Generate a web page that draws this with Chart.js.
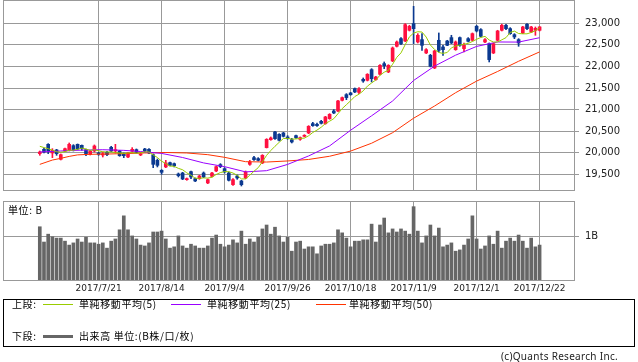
<!DOCTYPE html>
<html lang="ja">
<head>
<meta charset="utf-8">
<title>日足チャート</title>
<script src="https://cdn.jsdelivr.net/npm/chart.js@4.4.1/dist/chart.umd.min.js"></script>
<style>
    html, body { margin: 0; padding: 0; background: #fff; }
    #wrap { position: relative; width: 638px; height: 362px; overflow: hidden; color: #000;
            font-family: "Noto Sans CJK JP", "DejaVu Sans", sans-serif; }
    #wrap canvas { position: absolute; left: 0; }
    #priceChart { top: 0; }
    #volChart { top: 200px; }
    .txt { position: absolute; font-size: 10px; line-height: 12px; white-space: nowrap; letter-spacing: 0.6px; }
    #legend { position: absolute; left: 3px; top: 299px; width: 632px; height: 48px; box-sizing: border-box; border: 1px solid #000; }
    .sw { position: absolute; width: 30px; height: 1px; }
    #copy { font-family: "Noto Sans", "DejaVu Sans", sans-serif; letter-spacing: 0.3px; color: #222; }
</style>
</head>
<body>
<div id="wrap">
    <canvas id="priceChart" width="638" height="191"></canvas>
    <canvas id="volChart" width="638" height="100"></canvas>
    <div class="txt" style="left:8px; top:204px;">単位: B</div>
    <div id="legend">
        <span class="txt" style="left:8px; top:-2px;">上段:</span>
        <i class="sw" style="left:39px; top:4px; background:#99cc00;"></i>
        <span class="txt" style="left:75px; top:-2px;">単純移動平均(5)</span>
        <i class="sw" style="left:167px; top:4px; background:#9900ff;"></i>
        <span class="txt" style="left:203px; top:-2px;">単純移動平均(25)</span>
        <i class="sw" style="left:312px; top:4px; background:#ff3300;"></i>
        <span class="txt" style="left:345px; top:-2px;">単純移動平均(50)</span>
        <span class="txt" style="left:8px; top:30px;">下段:</span>
        <i class="sw" style="left:39px; top:35px; height:3px; background:#666;"></i>
        <span class="txt" style="left:75px; top:30px;">出来高 単位:(B株/口/枚)</span>
    </div>
    <div class="txt" id="copy" style="right:20px; top:350px;">(c)Quants Research Inc.</div>
</div>
<script>
// --- DATA ---
const sessions = [
    [6, [30]],
    [7, [3, 4, 5, 6, 7, 10, 11, 12, 13, 14, 18, 19, 20, 21, 24, 25, 26, 27, 28, 31]],
    [8, [1, 2, 3, 4, 7, 8, 9, 10, 14, 15, 16, 17, 18, 21, 22, 23, 24, 25, 28, 29, 30, 31]],
    [9, [1, 4, 5, 6, 7, 8, 11, 12, 13, 14, 15, 19, 20, 21, 22, 25, 26, 27, 28, 29]],
    [10, [2, 3, 4, 5, 6, 10, 11, 12, 13, 16, 17, 18, 19, 20, 23, 24, 25, 26, 27, 30, 31]],
    [11, [1, 2, 6, 7, 8, 9, 10, 13, 14, 15, 16, 17, 20, 21, 22, 24, 27, 28, 29, 30]],
    [12, [1, 4, 5, 6, 7, 8, 11, 12, 13, 14, 15, 18, 19, 20, 21, 22]]
];
const dates = sessions.flatMap(([m, days]) => days.map(d => `2017/${m}/${d}`));

const open = [
    19979, 20079, 20195, 19994, 20064, 19847, 20040, 20056, 20164, 20195,
    20172, 20071, 19963, 20040, 19994, 19948, 20010, 20126, 20040, 20040,
    19963, 19901, 20033, 20071, 19948, 20087, 20079, 19955, 19824, 19592,
    19670, 19770, 19747, 19507, 19530, 19376, 19561, 19399, 19399, 19530,
    19299, 19453, 19577, 19724, 19631, 19530, 19260, 19461, 19345, 19415,
    19731, 19886, 19863, 19762, 20118, 20303, 20481, 20427, 20458, 20365,
    20303, 20396, 20311, 20380, 20458, 20674, 20659, 20728, 20674, 20790,
    20968, 20968, 21215, 21346, 21385, 21485, 21400, 21702, 21679, 21926,
    21694, 21818, 22065, 21872, 22127, 22467, 22644, 22590, 22838, 22992,
    22567, 22621, 22312, 22258, 21964, 22606, 22451, 22590, 22668, 22389,
    22668, 22413, 22644, 22606, 22930, 22853, 22567, 22529, 22312, 22606,
    22838, 22954, 22876, 22737, 22621, 22776, 22977, 22799, 22838, 22838
];
const high = [
    20040, 20102, 20210, 20094, 20079, 19971, 20110, 20226, 20187, 20203,
    20180, 20087, 20056, 20180, 20010, 20017, 20033, 20149, 20195, 20056,
    19994, 20010, 20118, 20087, 19994, 20102, 20094, 19971, 19855, 19608,
    19824, 19785, 19762, 19530, 19546, 19415, 19577, 19415, 19477, 19554,
    19391, 19546, 19693, 19747, 19654, 19554, 19399, 19484, 19361, 19577,
    19824, 19917, 19886, 19955, 20326, 20365, 20496, 20442, 20473, 20396,
    20334, 20411, 20365, 20419, 20628, 20705, 20690, 20751, 20844, 20906,
    20999, 21215, 21292, 21370, 21400, 21501, 21509, 21733, 21833, 21949,
    21771, 22041, 22104, 22041, 22451, 22590, 22668, 22992, 22954, 23394,
    22760, 22760, 22413, 22281, 22374, 22776, 22490, 22606, 22722, 22590,
    22683, 22544, 22668, 22776, 22954, 22876, 22644, 22544, 22544, 22838,
    22977, 22977, 22899, 22760, 22644, 22930, 22992, 22930, 22915, 22930
];
const low = [
    19940, 19994, 19979, 19886, 19940, 19832, 20025, 20040, 20040, 20071,
    20056, 19932, 19948, 20017, 19940, 19901, 19932, 20025, 19994, 19917,
    19886, 19886, 20010, 19994, 19932, 20017, 19979, 19654, 19670, 19500,
    19654, 19693, 19670, 19438, 19376, 19361, 19399, 19330, 19384, 19422,
    19283, 19438, 19561, 19654, 19530, 19345, 19245, 19384, 19229, 19399,
    19708, 19824, 19809, 19747, 20110, 20288, 20311, 20272, 20365, 20311,
    20226, 20334, 20288, 20365, 20442, 20612, 20612, 20666, 20659, 20775,
    20906, 20953, 21200, 21230, 21331, 21393, 21370, 21632, 21663, 21640,
    21679, 21802, 21949, 21856, 22111, 22451, 22505, 22575, 22822, 22529,
    22544, 22374, 22297, 21988, 21949, 22335, 22258, 22482, 22529, 22374,
    22467, 22335, 22567, 22590, 22799, 22683, 22552, 22104, 22297, 22590,
    22822, 22853, 22745, 22644, 22467, 22760, 22853, 22784, 22722, 22822
];
const close = [
    20017, 20017, 20040, 20056, 19979, 19955, 20094, 20195, 20071, 20087,
    20094, 19979, 20033, 20156, 19963, 19979, 19955, 20040, 20071, 19932,
    19932, 19994, 20079, 20010, 19971, 20040, 19994, 19731, 19708, 19546,
    19762, 19708, 19700, 19469, 19391, 19399, 19438, 19345, 19461, 19438,
    19376, 19530, 19677, 19677, 19554, 19361, 19376, 19415, 19260, 19554,
    19785, 19840, 19824, 19940, 20311, 20342, 20326, 20288, 20380, 20334,
    20249, 20350, 20350, 20404, 20612, 20628, 20628, 20682, 20829, 20890,
    20921, 21200, 21277, 21277, 21346, 21408, 21478, 21663, 21818, 21717,
    21756, 22026, 22018, 22026, 22428, 22567, 22529, 22969, 22930, 22876,
    22722, 22490, 22389, 22003, 22359, 22374, 22389, 22490, 22544, 22567,
    22490, 22490, 22583, 22760, 22822, 22698, 22621, 22158, 22529, 22822,
    22954, 22876, 22760, 22683, 22544, 22915, 22876, 22915, 22884, 22915
];
// volume, in billions of shares
const volume = [
    1.22, 0.87, 1.05, 0.99, 0.96, 0.96, 0.89, 0.80, 0.85, 0.94,
    0.87, 0.98, 0.85, 0.85, 0.82, 0.85, 0.73, 0.89, 0.94, 1.15,
    1.47, 1.15, 1.01, 0.94, 0.80, 0.78, 0.85, 1.10, 1.10, 1.12,
    0.94, 0.73, 0.76, 1.01, 0.78, 0.73, 0.82, 0.78, 0.73, 0.73,
    0.78, 0.96, 1.03, 0.82, 0.76, 0.80, 0.92, 0.85, 1.12, 0.82,
    0.94, 0.87, 0.98, 1.17, 1.26, 1.05, 1.21, 1.01, 0.87, 0.98,
    0.66, 0.87, 0.89, 0.71, 0.76, 0.76, 0.60, 0.78, 0.82, 0.82,
    0.85, 1.15, 1.08, 0.96, 0.76, 0.89, 0.89, 0.92, 0.92, 1.28,
    0.87, 1.26, 1.42, 1.08, 1.17, 1.10, 1.17, 1.12, 1.05, 1.68,
    1.12, 0.85, 1.01, 1.26, 1.01, 1.19, 0.76, 0.80, 0.85, 0.66,
    0.69, 0.80, 0.94, 1.47, 0.94, 0.71, 0.78, 1.01, 0.82, 1.12,
    0.73, 0.89, 0.96, 0.89, 1.03, 0.89, 0.73, 0.96, 0.76, 0.80
];

// moving averages
const ma5 = [
    20149, 20120, 20094, 20060, 20022, 20009, 20025, 20056, 20059, 20080,
    20108, 20085, 20053, 20070, 20045, 20022, 20017, 20019, 20002, 19995,
    19986, 19994, 20002, 19989, 19997, 20019, 20019, 19949, 19889, 19804,
    19748, 19691, 19685, 19637, 19606, 19533, 19479, 19408, 19407, 19416,
    19412, 19430, 19496, 19540, 19563, 19560, 19529, 19477, 19393, 19393,
    19478, 19571, 19653, 19789, 19940, 20051, 20149, 20241, 20329, 20334,
    20315, 20320, 20333, 20337, 20393, 20469, 20524, 20591, 20676, 20731,
    20790, 20904, 21023, 21113, 21204, 21302, 21357, 21434, 21543, 21617,
    21686, 21796, 21867, 21909, 22051, 22213, 22314, 22504, 22685, 22774,
    22805, 22797, 22681, 22496, 22393, 22323, 22303, 22323, 22431, 22473,
    22496, 22516, 22535, 22578, 22629, 22671, 22697, 22612, 22566, 22566,
    22617, 22668, 22788, 22819, 22763, 22756, 22756, 22787, 22827, 22901
];
const ma25Idx = [0, 5, 10, 15, 20, 24, 29, 34, 39, 44, 49, 54, 59, 64, 69, 74, 79, 84, 89, 94, 99, 104, 109, 114, 119];
const ma25 = [20017, 20040, 20060, 20070, 20055, 20028, 19984, 19889, 19764, 19677, 19556, 19584, 19729,
              19925, 20158, 20521, 20856, 21199, 21675, 22008, 22261, 22464, 22567, 22565, 22666];
const ma50Idx = [0, 3, 5, 7, 9, 12, 16, 20, 25, 30, 35, 40, 44, 49, 54, 59, 64, 69, 74, 79, 84, 89, 94, 99, 104, 109, 114, 119];
const ma50 = [19730, 19830, 19870, 19915, 19950, 19963, 19970, 19979, 19994, 20005, 19994, 19955, 19893, 19792,
              19784, 19809, 19844, 19918, 20038, 20220, 20464, 20800, 21083, 21391, 21660, 21883, 22120, 22337];

const xTickLabels = ['2017/7/21', '2017/8/14', '2017/9/4', '2017/9/26', '2017/10/18', '2017/11/9', '2017/12/1', '2017/12/22'];
const priceTicks = [19500, 20000, 20500, 21000, 21500, 22000, 22500, 23000];
const volumeTicks = [1];

// --- STYLE ---
const UP = '#ff1040';
const DOWN = '#0b3990';
const GRID = '#999999';
const X_MIN = -8.76;
const X_MAX = 127.19;

const xTickIdx = xTickLabels.map(l => dates.indexOf(l));
const candleColor = close.map((c, i) => (c >= open[i] ? UP : DOWN));

const framePlugin = {
    id: 'frame',
    afterDraw(chart) {
        const { ctx, chartArea: a } = chart;
        ctx.save();
        ctx.strokeStyle = GRID;
        ctx.lineWidth = 1;
        ctx.strokeRect(Math.round(a.left) + 0.5, Math.round(a.top) + 0.5,
            Math.round(a.right - a.left), Math.round(a.bottom - a.top));
        ctx.restore();
    }
};

function xScale(showLabels) {
    return {
        type: 'linear',
        min: X_MIN,
        max: X_MAX,
        offset: false,
        afterBuildTicks: s => { s.ticks = xTickIdx.map(v => ({ value: v })); },
        afterFit: s => { s.height = showLabels ? 20 : 0; s.paddingLeft = 0; s.paddingRight = 0; },
        grid: { color: GRID, drawTicks: false, offset: false },
        border: { display: false },
        ticks: {
            display: showLabels,
            autoSkip: false,
            maxRotation: 0,
            padding: 3,
            color: '#222',
            font: { family: 'DejaVu Sans', size: 9 },
            callback: v => dates[v]
        }
    };
}

function yScale(min, max, tickValues, fmt) {
    return {
        position: 'right',
        min: min,
        max: max,
        afterBuildTicks: s => { s.ticks = tickValues.map(v => ({ value: v })); },
        afterFit: s => { s.width = 64; s.paddingTop = 0; s.paddingBottom = 0; },
        grid: { color: GRID, tickLength: 5 },
        border: { display: false },
        ticks: { color: '#222', padding: 6, font: { family: 'DejaVu Sans', size: 10 }, callback: fmt }
    };
}

const idx = close.map((_, i) => i);

new Chart(document.getElementById('priceChart'), {
    type: 'bar',
    data: {
        datasets: [
            { type: 'line', order: 0, data: idx.map(i => ({ x: i, y: ma5[i] })), borderColor: '#99cc00', borderWidth: 1, pointRadius: 0, tension: 0 },
            { type: 'line', order: 0, data: ma25Idx.map((x, k) => ({ x: x, y: ma25[k] })), borderColor: '#9900ff', borderWidth: 1, pointRadius: 0, tension: 0 },
            { type: 'line', order: 0, data: ma50Idx.map((x, k) => ({ x: x, y: ma50[k] })), borderColor: '#ff3300', borderWidth: 1, pointRadius: 0, tension: 0 },
            {
                order: 1, grouped: false, barThickness: 3, minBarLength: 1,
                data: idx.map(i => ({ x: i, y: [open[i], close[i]] })),
                backgroundColor: candleColor
            },
            {
                order: 2, grouped: false, barThickness: 1, minBarLength: 1,
                data: idx.map(i => ({ x: i, y: [low[i], high[i]] })),
                backgroundColor: candleColor
            }
        ]
    },
    options: {
        responsive: false,
        animation: false,
        devicePixelRatio: 1,
        layout: { padding: { left: 3, top: 0, right: 0, bottom: 1 } },
        plugins: { legend: { display: false }, tooltip: { enabled: false } },
        scales: {
            x: xScale(false),
            y: yScale(19136, 23540, priceTicks, v => v.toLocaleString('en-US'))
        }
    },
    plugins: [framePlugin]
});

new Chart(document.getElementById('volChart'), {
    type: 'bar',
    data: {
        datasets: [{
            grouped: false, barThickness: 3,
            data: idx.map(i => ({ x: i, y: volume[i] })),
            backgroundColor: '#666666'
        }]
    },
    options: {
        responsive: false,
        animation: false,
        devicePixelRatio: 1,
        layout: { padding: { left: 3, top: 1, right: 0, bottom: 0 } },
        plugins: { legend: { display: false }, tooltip: { enabled: false } },
        scales: {
            x: xScale(true),
            y: yScale(0, 1.81, volumeTicks, v => v + 'B')
        }
    },
    plugins: [framePlugin]
});
</script>
</body>
</html>
